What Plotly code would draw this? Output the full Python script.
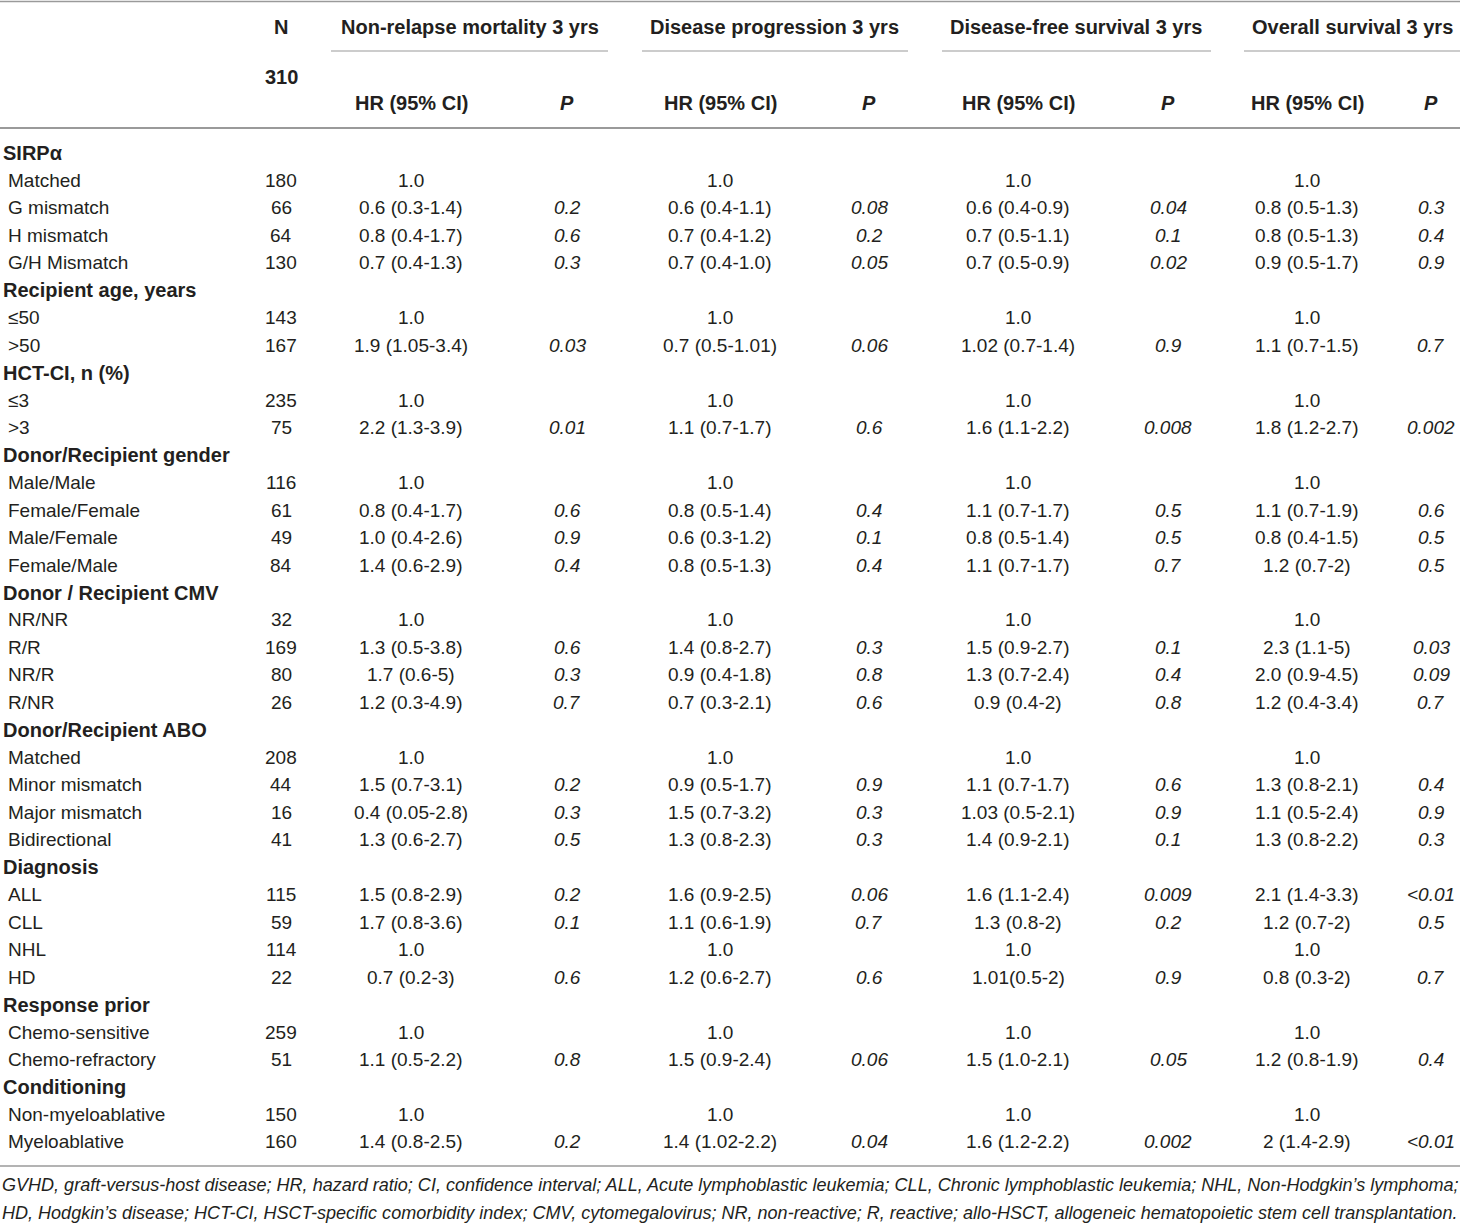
import plotly.graph_objects as go

# ---------------- data ----------------
row_labels = ["SIRPα", "Matched", "G mismatch", "H mismatch", "G/H Mismatch",
              "Recipient age, years", "≤50", ">50",
              "HCT-CI, n (%)", "≤3", ">3",
              "Donor/Recipient gender", "Male/Male", "Female/Female", "Male/Female", "Female/Male",
              "Donor / Recipient CMV", "NR/NR", "R/R", "NR/R", "R/NR",
              "Donor/Recipient ABO", "Matched", "Minor mismatch", "Major mismatch", "Bidirectional",
              "Diagnosis", "ALL", "CLL", "NHL", "HD",
              "Response prior", "Chemo-sensitive", "Chemo-refractory",
              "Conditioning", "Non-myeloablative", "Myeloablative"]
is_section = [True, False, False, False, False,
              True, False, False,
              True, False, False,
              True, False, False, False, False,
              True, False, False, False, False,
              True, False, False, False, False,
              True, False, False, False, False,
              True, False, False,
              True, False, False]
n_values = ["", "180", "66", "64", "130",
            "", "143", "167",
            "", "235", "75",
            "", "116", "61", "49", "84",
            "", "32", "169", "80", "26",
            "", "208", "44", "16", "41",
            "", "115", "59", "114", "22",
            "", "259", "51",
            "", "150", "160"]

outcomes = ["Non-relapse mortality 3 yrs", "Disease progression 3 yrs",
            "Disease-free survival 3 yrs", "Overall survival 3 yrs"]
n_total = "310"

nrm_hr = ["", "1.0", "0.6 (0.3-1.4)", "0.8 (0.4-1.7)", "0.7 (0.4-1.3)",
          "", "1.0", "1.9 (1.05-3.4)",
          "", "1.0", "2.2 (1.3-3.9)",
          "", "1.0", "0.8 (0.4-1.7)", "1.0 (0.4-2.6)", "1.4 (0.6-2.9)",
          "", "1.0", "1.3 (0.5-3.8)", "1.7 (0.6-5)", "1.2 (0.3-4.9)",
          "", "1.0", "1.5 (0.7-3.1)", "0.4 (0.05-2.8)", "1.3 (0.6-2.7)",
          "", "1.5 (0.8-2.9)", "1.7 (0.8-3.6)", "1.0", "0.7 (0.2-3)",
          "", "1.0", "1.1 (0.5-2.2)",
          "", "1.0", "1.4 (0.8-2.5)"]
nrm_p = ["", "", "0.2", "0.6", "0.3",
         "", "", "0.03",
         "", "", "0.01",
         "", "", "0.6", "0.9", "0.4",
         "", "", "0.6", "0.3", "0.7",
         "", "", "0.2", "0.3", "0.5",
         "", "0.2", "0.1", "", "0.6",
         "", "", "0.8",
         "", "", "0.2"]

dp_hr = ["", "1.0", "0.6 (0.4-1.1)", "0.7 (0.4-1.2)", "0.7 (0.4-1.0)",
         "", "1.0", "0.7 (0.5-1.01)",
         "", "1.0", "1.1 (0.7-1.7)",
         "", "1.0", "0.8 (0.5-1.4)", "0.6 (0.3-1.2)", "0.8 (0.5-1.3)",
         "", "1.0", "1.4 (0.8-2.7)", "0.9 (0.4-1.8)", "0.7 (0.3-2.1)",
         "", "1.0", "0.9 (0.5-1.7)", "1.5 (0.7-3.2)", "1.3 (0.8-2.3)",
         "", "1.6 (0.9-2.5)", "1.1 (0.6-1.9)", "1.0", "1.2 (0.6-2.7)",
         "", "1.0", "1.5 (0.9-2.4)",
         "", "1.0", "1.4 (1.02-2.2)"]
dp_p = ["", "", "0.08", "0.2", "0.05",
        "", "", "0.06",
        "", "", "0.6",
        "", "", "0.4", "0.1", "0.4",
        "", "", "0.3", "0.8", "0.6",
        "", "", "0.9", "0.3", "0.3",
        "", "0.06", "0.7", "", "0.6",
        "", "", "0.06",
        "", "", "0.04"]

dfs_hr = ["", "1.0", "0.6 (0.4-0.9)", "0.7 (0.5-1.1)", "0.7 (0.5-0.9)",
          "", "1.0", "1.02 (0.7-1.4)",
          "", "1.0", "1.6 (1.1-2.2)",
          "", "1.0", "1.1 (0.7-1.7)", "0.8 (0.5-1.4)", "1.1 (0.7-1.7)",
          "", "1.0", "1.5 (0.9-2.7)", "1.3 (0.7-2.4)", "0.9 (0.4-2)",
          "", "1.0", "1.1 (0.7-1.7)", "1.03 (0.5-2.1)", "1.4 (0.9-2.1)",
          "", "1.6 (1.1-2.4)", "1.3 (0.8-2)", "1.0", "1.01(0.5-2)",
          "", "1.0", "1.5 (1.0-2.1)",
          "", "1.0", "1.6 (1.2-2.2)"]
dfs_p = ["", "", "0.04", "0.1", "0.02",
         "", "", "0.9",
         "", "", "0.008",
         "", "", "0.5", "0.5", "0.7",
         "", "", "0.1", "0.4", "0.8",
         "", "", "0.6", "0.9", "0.1",
         "", "0.009", "0.2", "", "0.9",
         "", "", "0.05",
         "", "", "0.002"]

os_hr = ["", "1.0", "0.8 (0.5-1.3)", "0.8 (0.5-1.3)", "0.9 (0.5-1.7)",
         "", "1.0", "1.1 (0.7-1.5)",
         "", "1.0", "1.8 (1.2-2.7)",
         "", "1.0", "1.1 (0.7-1.9)", "0.8 (0.4-1.5)", "1.2 (0.7-2)",
         "", "1.0", "2.3 (1.1-5)", "2.0 (0.9-4.5)", "1.2 (0.4-3.4)",
         "", "1.0", "1.3 (0.8-2.1)", "1.1 (0.5-2.4)", "1.3 (0.8-2.2)",
         "", "2.1 (1.4-3.3)", "1.2 (0.7-2)", "1.0", "0.8 (0.3-2)",
         "", "1.0", "1.2 (0.8-1.9)",
         "", "1.0", "2 (1.4-2.9)"]
os_p = ["", "", "0.3", "0.4", "0.9",
        "", "", "0.7",
        "", "", "0.002",
        "", "", "0.6", "0.5", "0.5",
        "", "", "0.03", "0.09", "0.7",
        "", "", "0.4", "0.9", "0.3",
        "", "<0.01", "0.5", "", "0.7",
        "", "", "0.4",
        "", "", "<0.01"]

footnote_lines = [
    "GVHD, graft-versus-host disease; HR, hazard ratio; CI, confidence interval; ALL, Acute lymphoblastic leukemia; CLL, Chronic lymphoblastic leukemia; NHL, Non-Hodgkin\u2019s lymphoma;",
    "HD, Hodgkin\u2019s disease; HCT-CI, HSCT-specific comorbidity index; CMV, cytomegalovirus; NR, non-reactive; R, reactive; allo-HSCT, allogeneic hematopoietic stem cell transplantation.",
]

# ---------------- layout constants ----------------
W, H = 1460, 1223
FONT = "Liberation Sans, Arial, Helvetica, sans-serif"
TXT = "#231f20"
LINE = "#9a9a9a"
ROW_Y0, ROW_STEP = 153, 27.47
N_X = 281
HR_X = [411, 720, 1018, 1307]
P_X = [567, 869, 1168, 1431]
GROUP_X = [470, 774, 1076, 1352]
GROUP_LINE = [(331, 608), (642, 908), (942, 1211), (1244, 1460)]

hr_cols = [nrm_hr, dp_hr, dfs_hr, os_hr]
p_cols = [nrm_p, dp_p, dfs_p, os_p]


def esc(s):
    return s.replace("<", "&lt;").replace(">", "&gt;")


ann = []


def add(text, x, y, size=19, anchor="center", bold=False, italic=False):
    t = esc(text)
    if italic:
        t = "<i>" + t + "</i>"
    if bold:
        t = "<b>" + t + "</b>"
    ann.append(dict(text=t, x=x, y=y, xref="x", yref="y", showarrow=False,
                    xanchor=anchor, yanchor="middle",
                    font=dict(family=FONT, size=size, color=TXT)))


# header
add("N", N_X, 27, size=20, bold=True)
add(n_total, N_X, 77, size=20, bold=True)
for k, title in enumerate(outcomes):
    add(title, GROUP_X[k], 27, size=20, bold=True)
    add("HR (95% CI)", HR_X[k], 103, size=20, bold=True)
    add("P", P_X[k], 103, size=20, bold=True, italic=True)

# body
for i, lab in enumerate(row_labels):
    y = ROW_Y0 + i * ROW_STEP
    if is_section[i]:
        add(lab, 1, y, size=20, anchor="left", bold=True)
        continue
    add(lab, 6, y, anchor="left")
    if n_values[i]:
        add(n_values[i], N_X, y)
    for k in range(4):
        if hr_cols[k][i]:
            add(hr_cols[k][i], HR_X[k], y)
        if p_cols[k][i]:
            add(p_cols[k][i], P_X[k], y, italic=True)

# footnote
for j, line in enumerate(footnote_lines):
    add(line, 0, 1185 + j * 28, size=18.05, anchor="left", italic=True)

shapes = []


def hline(x0, x1, y, w):
    shapes.append(dict(type="line", xref="x", yref="y", x0=x0, x1=x1, y0=y, y1=y,
                       line=dict(color=LINE, width=w)))


hline(0, W, 1.5, 1.5)
for (a, b) in GROUP_LINE:
    hline(a, b, 51, 1.2)
hline(0, W, 128, 2)
hline(0, W, 1166, 1.5)

fig = go.Figure()
fig.add_trace(go.Scatter(x=[0, W], y=[0, H], mode="markers",
                         marker=dict(opacity=0), hoverinfo="skip", showlegend=False))
fig.update_layout(
    width=W, height=H, margin=dict(l=0, r=0, t=0, b=0),
    paper_bgcolor="white", plot_bgcolor="white",
    xaxis=dict(range=[0, W], visible=False, fixedrange=True),
    yaxis=dict(range=[H, 0], visible=False, fixedrange=True),
    annotations=ann, shapes=shapes, showlegend=False,
)
fig.write_html("out.html", config={"displayModeBar": False},
               post_script="document.body.style.margin='0';document.body.style.overflow='hidden';")
